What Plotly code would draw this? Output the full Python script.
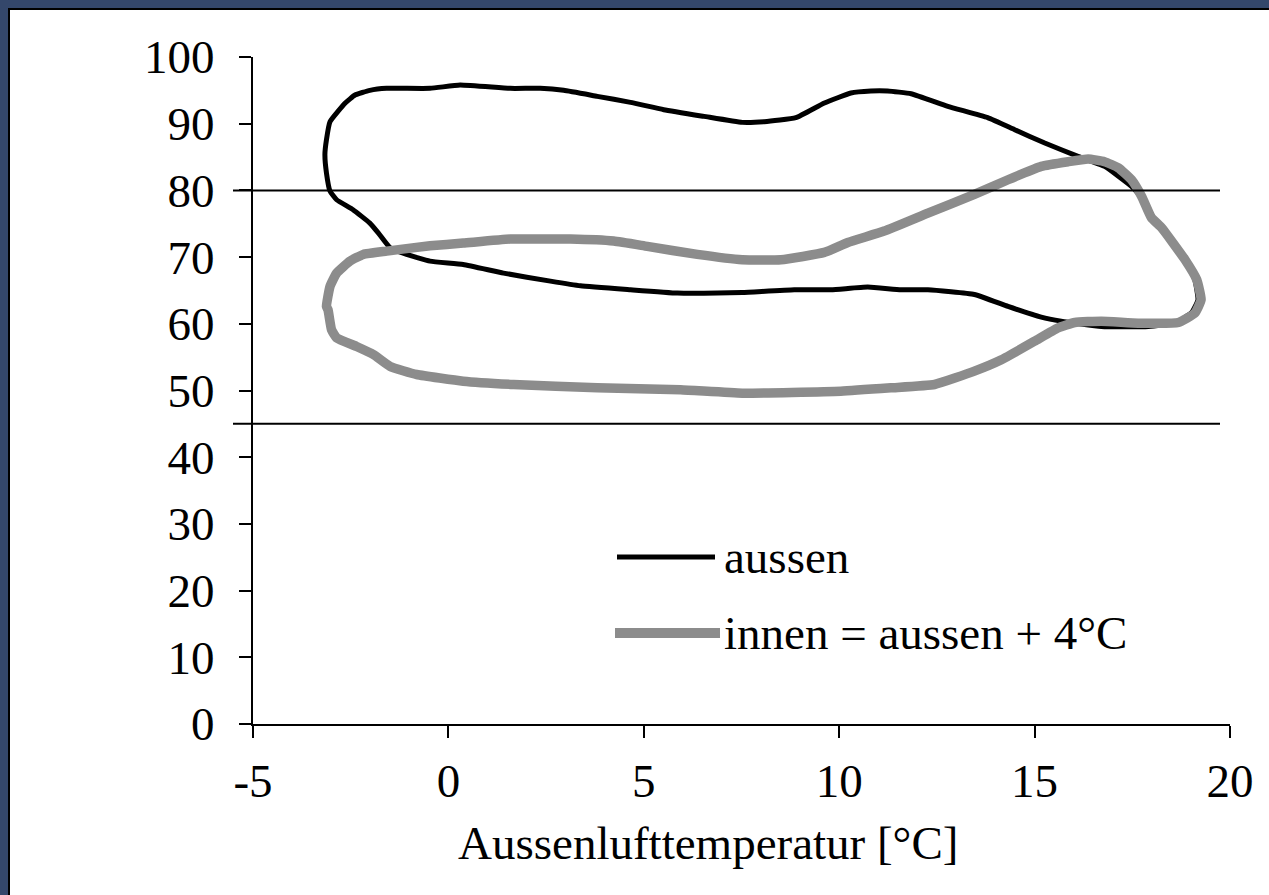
import plotly.graph_objects as go

# ---- data ----
aussen_x = [-3.03, -2.64, -2.39, -2.01, -1.58, -0.47, 0.30, 1.58, 2.35, 2.95, 3.81, 4.66, 5.51, 6.54,
            7.52, 8.08, 8.89, 9.62, 10.30, 10.81, 11.24, 11.84, 12.78, 13.80, 14.49, 15.26, 16.11,
            16.79, 17.48, 17.80, 18.05, 18.30, 18.85, 19.10, 19.18, 19.02, 18.62, 17.91, 16.71, 15.68,
            15.17, 14.32, 13.46, 12.27, 11.58, 10.73, 9.79, 8.85, 7.52, 6.88, 5.86, 4.66, 3.38, 2.61,
            1.41, 0.38, -0.47, -1.07, -1.49, -1.79, -2.01, -2.44, -2.86, -3.03, -3.12, -3.16, -3.12, -3.03]
aussen_y = [90.3, 93.1, 94.3, 95.0, 95.3, 95.3, 95.8, 95.3, 95.3, 95.0, 94.1, 93.2, 92.1, 91.1,
            90.2, 90.3, 90.9, 93.1, 94.6, 94.9, 94.9, 94.5, 92.6, 90.9, 89.1, 87.1, 85.1,
            83.6, 80.6, 78.5, 75.8, 74.3, 69.6, 66.6, 63.6, 61.7, 60.2, 59.6, 59.6, 60.4,
            61.0, 62.6, 64.4, 65.1, 65.1, 65.5, 65.1, 65.1, 64.7, 64.6, 64.6, 65.1, 65.7, 66.4,
            67.6, 68.9, 69.4, 70.4, 71.4, 73.6, 75.1, 77.1, 78.6, 79.9, 82.6, 85.4, 87.6, 90.3]

innen_x = [-3.12, -3.03, -2.86, -2.52, -2.18, -1.58, -0.47, 0.38, 1.58, 3.12, 4.23, 5.09, 6.37, 7.52,
           8.51, 9.62, 10.22, 11.15, 12.27, 13.46, 14.32, 15.17, 15.86, 16.37, 16.79, 17.14, 17.48,
           17.74, 17.99, 18.25, 18.85, 19.15, 19.26, 19.10, 18.68, 17.65, 16.71, 16.03, 15.60, 15.00,
           14.15, 13.46, 12.44, 11.32, 10.04, 7.52, 5.94, 3.81, 1.67, 0.38, -0.81, -1.49, -1.92,
           -2.35, -2.86, -2.99, -3.08, -3.12]
innen_y = [62.6, 65.6, 67.6, 69.4, 70.4, 70.9, 71.7, 72.1, 72.7, 72.7, 72.4, 71.6, 70.4, 69.6,
           69.6, 70.7, 72.2, 73.9, 76.6, 79.4, 81.6, 83.6, 84.3, 84.7, 84.3, 83.4, 81.6,
           79.1, 75.9, 74.4, 69.6, 66.6, 63.6, 61.6, 60.2, 60.1, 60.4, 60.2, 59.4, 57.4,
           54.6, 52.9, 50.9, 50.4, 49.9, 49.6, 50.1, 50.4, 50.9, 51.4, 52.4, 53.6, 55.4,
           56.6, 57.9, 59.1, 62.1, 62.6]

limit_values = [80, 45]
series_names = ["aussen", "innen = aussen + 4°C"]
x_title = "Aussenlufttemperatur [°C]"
x_ticks = [-5, 0, 5, 10, 15, 20]
y_ticks = [0, 10, 20, 30, 40, 50, 60, 70, 80, 90, 100]

# ---- layout geometry (pixels) ----
W, H = 1269, 895
L, R, T, B = 253, 39, 57, 171
PW, PH = W - L - R, H - T - B


def px(xp):
    return (xp - L) / PW


def py(yp):
    return (H - B - yp) / PH


FONT = "Liberation Serif, Times New Roman, serif"
FS = 47
BLACK = "#000000"
GRAY = "#8c8c8c"
NAVY = "#34476b"

fig = go.Figure()
fig.add_trace(go.Scatter(x=aussen_x, y=aussen_y, mode="lines", name=series_names[0],
                         line=dict(color=BLACK, width=5, shape="spline", smoothing=0.4),
                         showlegend=False))
fig.add_trace(go.Scatter(x=innen_x, y=innen_y, mode="lines", name=series_names[1],
                         line=dict(color=GRAY, width=9.5, shape="spline", smoothing=0.4),
                         showlegend=False))

shapes = []
# frame: navy background with white inset panel and black edge
shapes.append(dict(type="rect", xref="paper", yref="paper", layer="below",
                   x0=px(9), x1=px(W + 20), y0=py(H + 20), y1=py(9),
                   fillcolor="white", line=dict(color=BLACK, width=2)))
# reference lines
for v in limit_values:
    shapes.append(dict(type="line", xref="paper", yref="y", x0=px(233), x1=px(1220),
                       y0=v, y1=v, line=dict(color=BLACK, width=2), layer="above"))
# manual legend
shapes.append(dict(type="line", xref="paper", yref="paper", x0=px(617), x1=px(715),
                   y0=py(557), y1=py(557), line=dict(color=BLACK, width=5)))
shapes.append(dict(type="line", xref="paper", yref="paper", x0=px(615), x1=px(720),
                   y0=py(633), y1=py(633), line=dict(color=GRAY, width=10)))

annotations = [
    dict(text=series_names[0], xref="paper", yref="paper", x=px(722), y=py(557),
         xanchor="left", yanchor="middle", showarrow=False,
         font=dict(family=FONT, size=FS, color=BLACK)),
    dict(text=series_names[1], xref="paper", yref="paper", x=px(722), y=py(633),
         xanchor="left", yanchor="middle", showarrow=False,
         font=dict(family=FONT, size=FS, color=BLACK)),
    dict(text=x_title, xref="paper", yref="paper", x=px(708), y=py(843),
         xanchor="center", yanchor="middle", showarrow=False,
         font=dict(family=FONT, size=FS, color=BLACK)),
]

fig.update_layout(
    width=W, height=H,
    margin=dict(l=L, r=R, t=T, b=B, pad=0),
    paper_bgcolor=NAVY, plot_bgcolor="white",
    font=dict(family=FONT, size=FS, color=BLACK),
    shapes=shapes, annotations=annotations,
    showlegend=False,
)
fig.update_xaxes(range=[-5, 20], tickvals=x_ticks, ticktext=[str(t) for t in x_ticks],
                 showline=True, linecolor=BLACK, linewidth=2, showgrid=False, zeroline=False,
                 ticks="outside", ticklen=12, tickwidth=2, tickcolor=BLACK,
                 ticklabelstandoff=3, tickfont=dict(family=FONT, size=FS, color=BLACK))
fig.update_yaxes(range=[0, 100], tickvals=y_ticks, showline=True, linecolor=BLACK, linewidth=2,
                 showgrid=False, zeroline=False, ticks="outside", ticklen=12, tickwidth=2,
                 tickcolor=BLACK, ticklabelstandoff=15,
                 tickfont=dict(family=FONT, size=FS, color=BLACK))

fig.write_html("out.html")
